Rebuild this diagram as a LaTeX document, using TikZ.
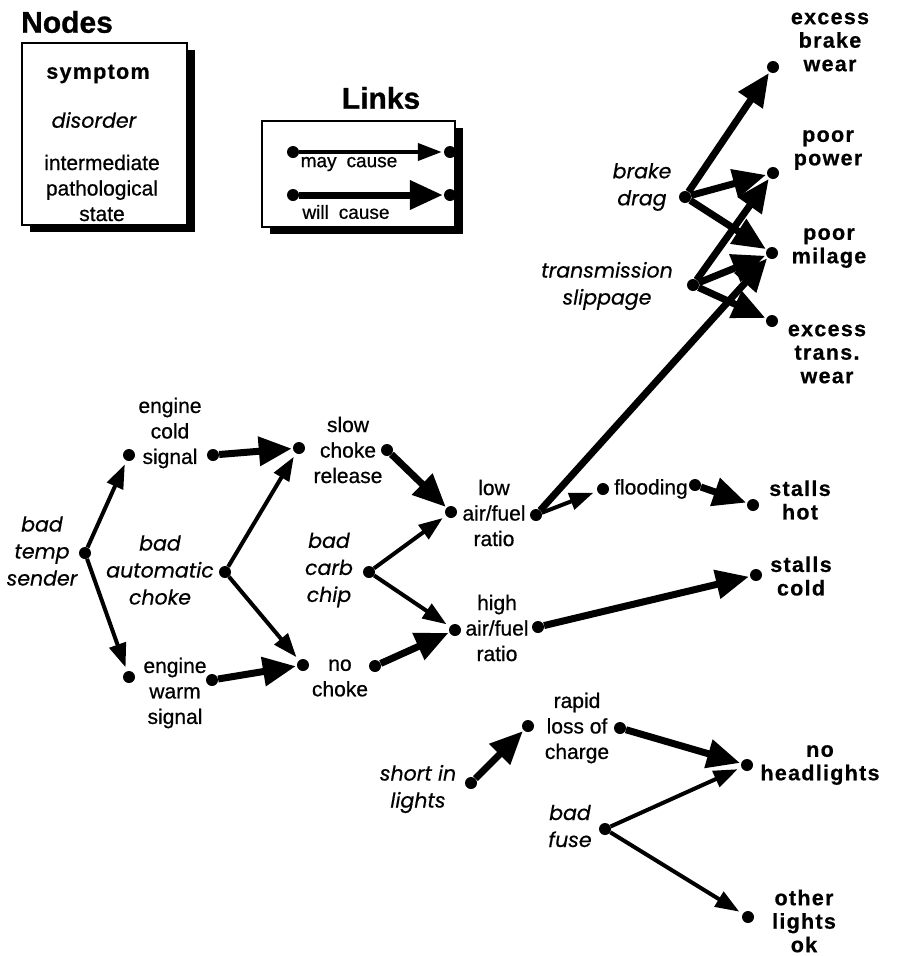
\documentclass[tikz,border=0pt]{standalone}
\usepackage{fontspec}
\setmainfont{Liberation Sans}[FakeBold=0.7]
\newfontfamily\symfont{Liberation Sans}[UprightFont=* Bold, LetterSpace=6, FakeBold=0.6]
\newfontfamily\disfont{Poppins}[FakeBold=0.5]
\newfontfamily\ttlfont{Liberation Sans}[UprightFont=* Bold, FakeBold=1]
\usetikzlibrary{arrows.meta,shadows}
\tikzset{
 dot/.style={circle,fill,inner sep=0pt,minimum size=12pt},
 txt/.style={inner sep=0pt, align=center, font=\fontsize{21}{25.5}\selectfont},
 sym/.style={inner sep=0pt, align=center, font=\symfont\fontsize{21.5}{23.5}\selectfont},
 dis/.style={inner sep=0pt, align=center, font=\disfont\itshape\fontsize{20.5}{27}\selectfont},
 ttl/.style={inner sep=0pt, font=\ttlfont\fontsize{30}{32}\selectfont},
 may/.style={line width=4pt, -{Triangle[length=24pt,width=17pt]}, shorten >=4pt},
 will/.style={line width=7pt, -{Triangle[length=33pt,width=28pt]}, shorten >=1pt},
 legbox/.style={draw, line width=1.5pt, fill=white, inner sep=0pt,
   drop shadow={opacity=1, fill=black, shadow xshift=8pt, shadow yshift=-7pt}},
}
\begin{document}
\begin{tikzpicture}[x=1pt,y=-1pt]
\useasboundingbox (0,0) rectangle (900,956);

% ---------- legend ----------
\node[ttl, anchor=west] (tnodes) at (21,22) {Nodes};
\node[legbox, minimum width=165pt, minimum height=182pt] (nodesbox) at (104.5,134) {};
\node[sym] (lsym) at (98,74) {symptom};
\node[dis] (ldis) at (94,120) {disorder};
\node[txt] (lint) at (102,188) {intermediate\\pathological\\state};

\node[ttl] (tlinks) at (381,98) {Links};
\node[legbox, minimum width=193pt, minimum height=106pt] (linksbox) at (358.5,174) {};
\node[dot] (lm1) at (293,152) {};
\node[dot] (lm2) at (450,152) {};
\node[dot] (lw1) at (293,195) {};
\node[dot] (lw2) at (450,195) {};
\draw[may, shorten >=2pt] (lm1) -- (lm2);
\draw[will] (lw1) -- (lw2);
\node[txt, font=\fontsize{19}{22}\selectfont] (lmay) at (349,164) {may\hspace{10pt}cause};
\node[txt, font=\fontsize{19}{22}\selectfont] (lwill) at (346,212) {will\hspace{10pt}cause};

% ---------- texts ----------
\node[dis] (t-bts) at (42,551) {bad\\temp\\sender};
\node[txt] (t-ecs) at (170,433) {engine\\cold\\signal};
\node[txt] (t-ews) at (175,693) {engine\\warm\\signal};
\node[dis] (t-bac) at (160,570) {bad\\automatic\\choke};
\node[txt] (t-scr) at (348,450) {slow\\choke\\release};
\node[txt] (t-nc) at (340,678) {no\\choke};
\node[dis] (t-bcc) at (329,570) {bad\\carb\\chip};
\node[txt] (t-laf) at (494,513) {low\\air/fuel\\ratio};
\node[txt] (t-haf) at (497,628) {high\\air/fuel\\ratio};
\node[txt] (t-fl) at (651,489) {flooding};
\node[sym] (t-sh) at (800,500) {stalls\\hot};
\node[sym] (t-sc) at (801,576) {stalls\\cold};
\node[txt] (t-rl) at (577,728) {rapid\\loss of\\charge};
\node[dis] (t-sil) at (418,789) {short in\\lights};
\node[dis] (t-bf) at (570,826) {bad\\fuse};
\node[sym] (t-nh) at (820,765) {no\\headlights};
\node[sym] (t-olo) at (804,921) {other\\lights\\ok};
\node[sym] (t-ebw) at (830,42) {excess\\brake\\wear};
\node[sym] (t-pp) at (828,150) {poor\\power};
\node[sym] (t-pm) at (829,248) {poor\\milage};
\node[sym] (t-etw) at (827,354) {excess\\trans.\\wear};
\node[dis] (t-bd) at (642,187) {brake\\drag};
\node[dis] (t-ts) at (607,286) {transmission\\slippage};

% ---------- dots ----------
\node[dot] (bts) at (85,553) {};
\node[dot] (ecs) at (129,455) {};
\node[dot] (ecso) at (213,455) {};
\node[dot] (ews) at (129,677) {};
\node[dot] (ewso) at (212,680) {};
\node[dot] (bac) at (225,572) {};
\node[dot] (scr) at (299,448) {};
\node[dot] (scro) at (387,450) {};
\node[dot] (nc) at (303,665) {};
\node[dot] (nco) at (375,666) {};
\node[dot] (bcc) at (369,572) {};
\node[dot] (laf) at (451,512) {};
\node[dot] (lafo) at (536,515) {};
\node[dot] (haf) at (455,630) {};
\node[dot] (hafo) at (538,627) {};
\node[dot] (fl) at (603,489) {};
\node[dot] (flo) at (695,485) {};
\node[dot] (sh) at (753,505) {};
\node[dot] (sc) at (756,575) {};
\node[dot] (rl) at (528,726) {};
\node[dot] (rlo) at (620,728) {};
\node[dot] (sil) at (471,783) {};
\node[dot] (bf) at (605,829) {};
\node[dot] (nh) at (747,765) {};
\node[dot] (olo) at (748,917) {};
\node[dot] (ebw) at (773,67) {};
\node[dot] (pp) at (773,173) {};
\node[dot] (pm) at (772,253) {};
\node[dot] (etw) at (772,321) {};
\node[dot] (bd) at (685,197) {};
\node[dot] (ts) at (693,285) {};

% ---------- may cause ----------
\draw[may] (bts) -- (ecs);
\draw[may] (bts) -- (ews);
\draw[may] (bac) -- (scr);
\draw[may] (bac) -- (nc);
\draw[may] (bcc) -- (laf);
\draw[may] (bcc) -- (haf);
\draw[may] (lafo) -- (fl);
\draw[may] (bf) -- (nh);
\draw[may] (bf) -- (olo);

% ---------- will cause ----------
\draw[will] (ecso) -- (scr);
\draw[will] (ewso) -- (nc);
\draw[will] (scro) -- (laf);
\draw[will] (nco) -- (haf);
\draw[will] (flo) -- (sh);
\draw[will] (hafo) -- (sc);
\draw[will] (lafo) -- (pm);
\draw[will] (sil) -- (rl);
\draw[will] (rlo) -- (nh);
\draw[will] (bd) -- (ebw);
\draw[will] (bd) -- (pp);
\draw[will] (bd) -- (pm);
\draw[will] (ts) -- (pp);
\draw[will] (ts) -- (pm);
\draw[will] (ts) -- (etw);
\end{tikzpicture}
\end{document}
